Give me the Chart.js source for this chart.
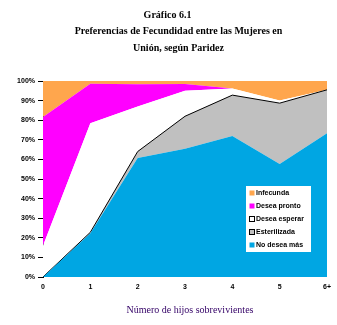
<!DOCTYPE html>
<html>
<head>
<meta charset="utf-8">
<script src="https://cdn.jsdelivr.net/npm/chart.js@4/dist/chart.umd.min.js"></script>
<style>
  html, body { margin: 0; padding: 0; background: #fff; }
  #wrap { width: 337px; height: 325px; }
</style>
</head>
<body>
<div id="wrap"><canvas id="grafico" width="337" height="325"></canvas></div>
<script>
// hijos sobrevivientes
var hijos = ['0', '1', '2', '3', '4', '5', '6+'];

// porcentajes por grupo (se apilan de abajo hacia arriba)
var noDeseaMas   = [0, 22.3, 60.7, 65.4, 72.0, 57.6, 73.4];
var esterilizada = [0, 0.5, 3.3, 16.6, 20.8, 31.1, 22.1];
var deseaEsperar = [16.0, 55.7, 23.0, 13.0, 3.4, 1.3, 0];
var deseaPronto  = [65.6, 20.1, 11.3, 3.5, 0, 0, 0];
var infecunda    = [18.4, 1.4, 1.7, 1.5, 3.8, 10.0, 4.5];

var etiquetasY = ['0%', '10%', '20%', '30%', '40%', '50%', '60%', '70%', '80%', '90%', '100%'];

var tituloLineas = ['Gráfico 6.1', 'Preferencias de Fecundidad entre las Mujeres en', 'Unión, según Paridez'];
var tituloX = 'Número de hijos sobrevivientes';

function serie(label, data, color, borde, ancho, fill) {
    return {
        label: label,
        data: data,
        backgroundColor: color,
        borderColor: borde || color,
        borderWidth: ancho,
        fill: fill,
        tension: 0,
        pointRadius: 0
    };
}

// titulo arriba, leyenda dentro del area y titulo del eje x
var textos = {
    id: 'textos',
    afterDraw: function(chart) {
        var c = chart.ctx;
        c.save();
        c.fillStyle = '#000';
        c.textAlign = 'center';
        c.textBaseline = 'alphabetic';
        c.font = 'bold 10px "Liberation Serif"';
        c.fillText(tituloLineas[0], 167.5, 18);
        c.fillText(tituloLineas[1], 178.5, 33.5);
        c.fillText(tituloLineas[2], 178.5, 50.5);

        c.fillStyle = '#330066';
        c.font = '10px "Liberation Serif"';
        c.fillText(tituloX, 190, 312.5);

        // leyenda
        var x0 = 246, y0 = 186, w = 65, h = 66;
        c.fillStyle = '#fff';
        c.fillRect(x0, y0, w, h);
        var ds = chart.data.datasets.slice().reverse();
        c.textAlign = 'left';
        c.textBaseline = 'middle';
        c.font = 'bold 7px "Liberation Sans"';
        ds.forEach(function(d, i) {
            var yy = y0 + 7 + i * 13;
            c.fillStyle = d.backgroundColor;
            c.fillRect(x0 + 3.5, yy - 2.5, 5, 5);
            if (d.borderColor === '#000') {
                c.strokeStyle = '#000';
                c.lineWidth = 1;
                c.strokeRect(x0 + 3.5, yy - 2.5, 5, 5);
            }
            c.fillStyle = '#000';
            c.fillText(d.label, x0 + 10, yy);
        });
        c.restore();
    }
};

var ctx = document.getElementById('grafico');
var grafico = new Chart(ctx, {
    type: 'line',
    data: {
        labels: hijos,
        datasets: [
            serie('No desea más', noDeseaMas, '#00A6E3', null, 0, 'origin'),
            serie('Esterilizada', esterilizada, '#C0C0C0', '#000', 1, '-1'),
            serie('Desea esperar', deseaEsperar, '#FFFFFF', '#000', 0, '-1'),
            serie('Desea pronto', deseaPronto, '#FF00FF', null, 0, '-1'),
            serie('Infecunda', infecunda, '#FFA64D', null, 0, '-1')
        ]
    },
    options: {
        responsive: false,
        animation: false,
        layout: { padding: { top: 81, right: 10, left: 0, bottom: 0 } },
        plugins: {
            legend: { display: false },
            title: { display: false },
            tooltip: { enabled: false }
        },
        scales: {
            x: {
                offset: false,
                grid: { display: false, drawTicks: false },
                border: { display: false },
                ticks: {
                    color: '#000',
                    padding: 6,
                    maxRotation: 0,
                    font: { family: 'Liberation Sans', size: 7, weight: 'bold' }
                },
                afterFit: function(s) { s.height = 48; }
            },
            y: {
                stacked: true,
                min: 0,
                max: 100,
                grid: { drawOnChartArea: false, drawTicks: true, tickLength: 5, color: '#000' },
                border: { display: true, color: '#000', width: 1 },
                ticks: {
                    stepSize: 10,
                    color: '#000',
                    padding: 3,
                    font: { family: 'Liberation Sans', size: 7, weight: 'bold' },
                    callback: function(v) { return etiquetasY[Math.round(v / 10)]; }
                },
                afterFit: function(s) { s.width = 43; }
            }
        }
    },
    plugins: [textos]
});
</script>
</body>
</html>
